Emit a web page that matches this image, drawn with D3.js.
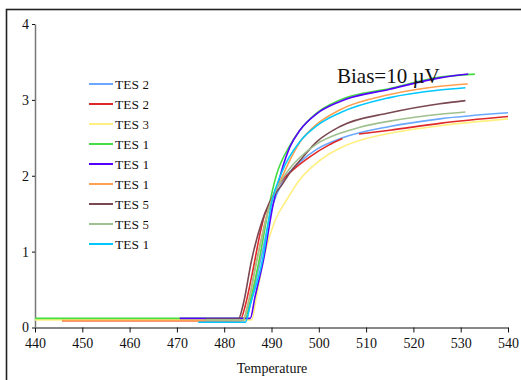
<!DOCTYPE html>
<html>
<head>
<meta charset="utf-8">
<script src="https://cdn.jsdelivr.net/npm/d3@7"></script>
<style>
  body { margin: 0; background: #fff; }
  svg { display: block; }
  text { font-family: "Liberation Serif", "Times New Roman", serif; fill: #111; }
</style>
</head>
<body>
<figure id="chart" style="margin:0"></figure>
<script>
// series names (legend text is cut off in the original)
const names = ["TES 24", "TES 25", "TES 31", "TES 14", "TES 15", "TES 16", "TES 51", "TES 52", "TES 17"];
const colors = ["#6aa8ff", "#e02828", "#fff080", "#44dd44", "#5500ff", "#ffa050", "#7a4850", "#a0c090", "#00c8ff"];

const xTicks = [440, 450, 460, 470, 480, 490, 500, 510, 520, 530, 540];
const yTicks = [0, 1, 2, 3, 4];

// [temperature, value]
const tes24 = [[475,0.08],[484.5,0.09],[485.5,0.3],[487.7,0.89],[490.2,1.6],[492,1.88],[494,2.06],[496,2.18],[499.6,2.35],[505,2.5],[515,2.65],[525.6,2.75],[540,2.83]];
const tes25 = [[445.7,0.09],[483.3,0.09],[484.5,0.3],[485.8,0.67],[487.9,1.33],[488.6,1.5],[489.7,1.59],[490.3,1.73],[492,1.92],[494.6,2.08],[498.1,2.25],[502,2.4],[505,2.49],[506.7,null],[508.5,2.55],[515,2.6],[525.6,2.69],[540,2.78]];
const tes31 = [[440,0.1],[485.8,0.1],[486.8,0.4],[488.3,0.89],[490.7,1.4],[493.2,1.68],[496,1.95],[499,2.14],[502,2.28],[505,2.38],[510,2.49],[515,2.56],[525.6,2.66],[540,2.75]];
const tes14 = [[440,0.12],[484.5,0.12],[485.5,0.35],[487.4,0.89],[489.6,1.64],[491,2.0],[493.9,2.4],[496,2.6],[499.6,2.83],[504.5,3.0],[515,3.15],[525.6,3.3],[533,3.34]];
const tes15 = [[470.6,0.12],[485.5,0.12],[486.5,0.4],[488.3,0.89],[490.4,1.64],[492.2,2.08],[493.9,2.38],[496,2.6],[499.6,2.82],[504.5,2.98],[515,3.14],[525.6,3.29],[531.6,3.34]];
const tes16 = [[445.7,0.09],[484,0.09],[485,0.3],[486.9,0.89],[489.7,1.64],[492.2,1.98],[494,2.22],[496,2.44],[499.6,2.68],[504.5,2.87],[515,3.07],[525.6,3.18],[531.5,3.21]];
const tes51 = [[476,0.11],[483,0.11],[484,0.3],[485.8,0.89],[489.5,1.64],[492.2,1.88],[494,2.05],[496,2.2],[499.6,2.45],[504.5,2.65],[515,2.83],[525.6,2.95],[531,2.99]];
const tes52 = [[476,0.1],[484,0.1],[485,0.3],[486.9,0.89],[489.8,1.64],[492,1.93],[493.9,2.1],[496,2.24],[499.6,2.42],[504.5,2.56],[508.7,2.64],[515,2.72],[525.6,2.81],[531,2.84]];
const tes17 = [[474.5,0.07],[484.5,0.07],[485.5,0.3],[488.1,0.89],[490,1.64],[492.2,2.05],[496,2.45],[499.6,2.66],[504.5,2.83],[515,3.03],[525.6,3.13],[531,3.16]];

const series = [tes24, tes25, tes31, tes14, tes15, tes16, tes51, tes52, tes17];

const width = 521, height = 380;
const serif = "Liberation Serif, Times New Roman, serif";
const svg = d3.select("figure#chart")
  .append("svg")
  .attr("width", width)
  .attr("height", height);

// outer frame
svg.append("rect")
  .attr("x", 6.5).attr("y", 9.5)
  .attr("width", 700).attr("height", 700)
  .attr("fill", "none")
  .attr("stroke", "#222")
  .attr("stroke-width", 1.6);

const x = d3.scaleLinear().domain([440, 540]).range([35, 508]);
const y = d3.scaleLinear().domain([0, 4]).range([327.5, 24]);

// x axis
const gx = svg.append("g")
  .attr("transform", "translate(0," + y(0) + ")")
  .call(d3.axisBottom(x).tickValues(xTicks).tickFormat(d3.format("d"))
    .tickSize(5).tickSizeOuter(0).tickPadding(6));
gx.selectAll("text").attr("fill", "#111")
  .style("font-family", serif).style("font-size", "14px");
gx.select(".domain").attr("stroke", "#111");
gx.selectAll(".tick line").attr("stroke", "#111");

// y axis
const gy = svg.append("g")
  .attr("transform", "translate(" + x(440) + ",0)")
  .call(d3.axisLeft(y).tickValues(yTicks).tickFormat(d3.format("d"))
    .tickSize(3).tickSizeOuter(0).tickPadding(3));
gy.selectAll("text").attr("fill", "#111")
  .style("font-family", serif).style("font-size", "14px");
gy.select(".domain").attr("stroke", "#777").attr("stroke-width", 1.5);
gy.selectAll(".tick line").attr("stroke", "#111");

svg.append("text")
  .attr("x", 272).attr("y", 373)
  .attr("text-anchor", "middle")
  .style("font-size", "14px")
  .text("Temperature");

// curves
const line = d3.line()
  .defined(d => d[1] != null)
  .x(d => x(d[0]))
  .y(d => y(d[1]))
  .curve(d3.curveMonotoneX);

svg.selectAll("path.curve")
  .data(series)
  .enter()
  .append("path")
  .attr("class", "curve")
  .attr("d", line)
  .attr("fill", "none")
  .attr("stroke", (d, i) => colors[i])
  .attr("stroke-width", 1.6);

svg.append("text")
  .attr("x", 337).attr("y", 83)
  .style("font-size", "21px")
  .text("Bias=10 \u00b5V");

// legend, labels clipped like the original
svg.append("clipPath").attr("id", "legclip")
  .append("rect").attr("x", 80).attr("y", 60).attr("width", 68.5).attr("height", 200);

const leg = svg.append("g").attr("clip-path", "url(#legclip)");
const rows = leg.selectAll("g")
  .data(names)
  .enter()
  .append("g")
  .attr("transform", (d, i) => "translate(0," + (84 + i * 20) + ")");

rows.append("line")
  .attr("x1", 89).attr("x2", 113)
  .attr("stroke", (d, i) => colors[i])
  .attr("stroke-width", 1.8);

rows.append("text")
  .attr("x", 115).attr("y", 4.5)
  .style("font-size", "13.5px")
  .text(d => d);
</script>
</body>
</html>
